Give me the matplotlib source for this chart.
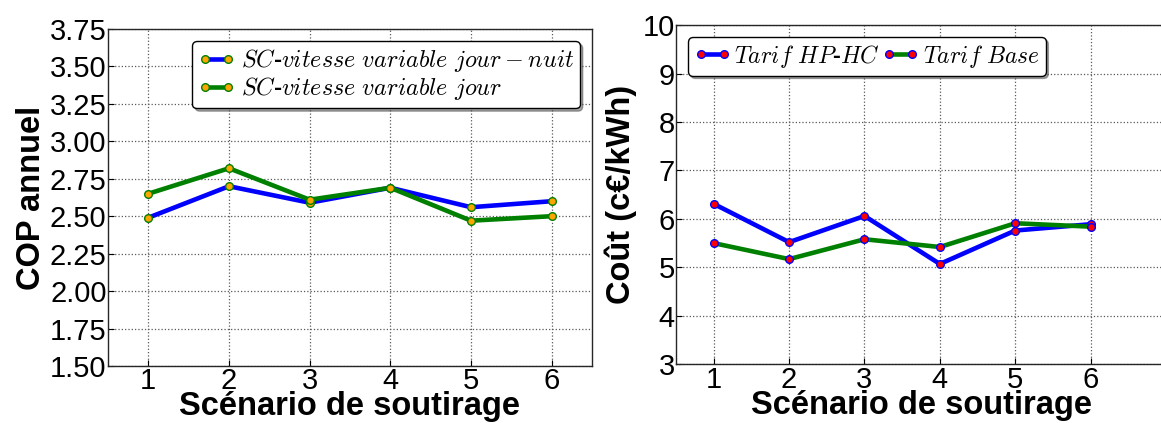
"""Two panels: annual COP and cost per withdrawal scenario."""

import matplotlib
matplotlib.use("Agg")
import matplotlib.pyplot as plt

scenarios = [1, 2, 3, 4, 5, 6]

cop_jour_nuit = [2.49, 2.70, 2.59, 2.69, 2.56, 2.60]
cop_jour = [2.65, 2.82, 2.61, 2.69, 2.47, 2.50]

cout_hphc = [6.31, 5.52, 6.06, 5.07, 5.76, 5.89]
cout_base = [5.50, 5.17, 5.58, 5.42, 5.91, 5.84]

cop_ticks = [1.50, 1.75, 2.00, 2.25, 2.50, 2.75, 3.00, 3.25, 3.50, 3.75]
cout_ticks = [3, 4, 5, 6, 7, 8, 9, 10]

plt.rcParams["font.family"] = ["Liberation Sans", "DejaVu Sans"]
plt.rcParams["mathtext.fontset"] = "cm"

fig = plt.figure(figsize=(11.61, 4.23), dpi=100)
ax1 = fig.add_axes([0.0930, 0.1348, 0.4169, 0.7967])
ax2 = fig.add_axes([0.5823, 0.1388, 0.4220, 0.8020])


def style(ax):
    ax.grid(True, color="0.35", linestyle=":", linewidth=0.9)
    ax.set_axisbelow(True)
    ax.tick_params(direction="in", labelsize=21, length=4, pad=1)
    for s in ax.spines.values():
        s.set_color("0.15")
        s.set_linewidth(1.0)
    ax.set_xticks(scenarios)
    ax.set_xlabel("Scénario de soutirage", fontsize=23.5, fontweight="bold", labelpad=-3)


# left panel
ax1.plot(scenarios, cop_jour_nuit, color="blue", lw=3.3, marker="o", ms=5.5,
         mfc="orange", mec="green", mew=1, label=r"$SC$-$vitesse\ variable\ jour-nuit$")
ax1.plot(scenarios, cop_jour, color="green", lw=3.3, marker="o", ms=5.5,
         mfc="orange", mec="green", mew=1, label=r"$SC$-$vitesse\ variable\ jour$")
ax1.set_xlim(0.5, 6.5)
ax1.set_ylim(1.5, 3.75)
ax1.set_yticks(cop_ticks)
ax1.set_yticklabels([f"{t:.2f}" for t in cop_ticks])
style(ax1)
ax1.set_ylabel("COP annuel", fontsize=23.5, fontweight="bold", labelpad=2)
ax1.legend(loc="upper right", numpoints=2, fancybox=True, shadow=True,
           handlelength=1.55, handletextpad=0.2, borderpad=0.25, labelspacing=0.05,
           framealpha=1, edgecolor="black", prop={"size": 17.4, "weight": "bold"})

# right panel
ax2.plot(scenarios, cout_hphc, color="blue", lw=3.3, marker="o", ms=5.5,
         mfc="red", mec="blue", mew=1, label=r"$Tarif\ HP$-$HC$")
ax2.plot(scenarios, cout_base, color="green", lw=3.3, marker="o", ms=5.5,
         mfc="red", mec="blue", mew=1, label=r"$Tarif\ Base$")
ax2.set_xlim(0.5, 7.0)
ax2.set_ylim(3, 10)
ax2.set_yticks(cout_ticks)
style(ax2)
ax2.set_ylabel("Coût (c€/kWh)", fontsize=23.5, fontweight="bold", labelpad=4)
ax2.legend(loc="upper left", ncol=2, numpoints=2, fancybox=True, shadow=True,
           handlelength=1.57, handletextpad=0.15, columnspacing=0.08, borderpad=0.25,
           framealpha=1, edgecolor="black", prop={"size": 17, "weight": "bold"})

fig.savefig("out.png", dpi=100)
